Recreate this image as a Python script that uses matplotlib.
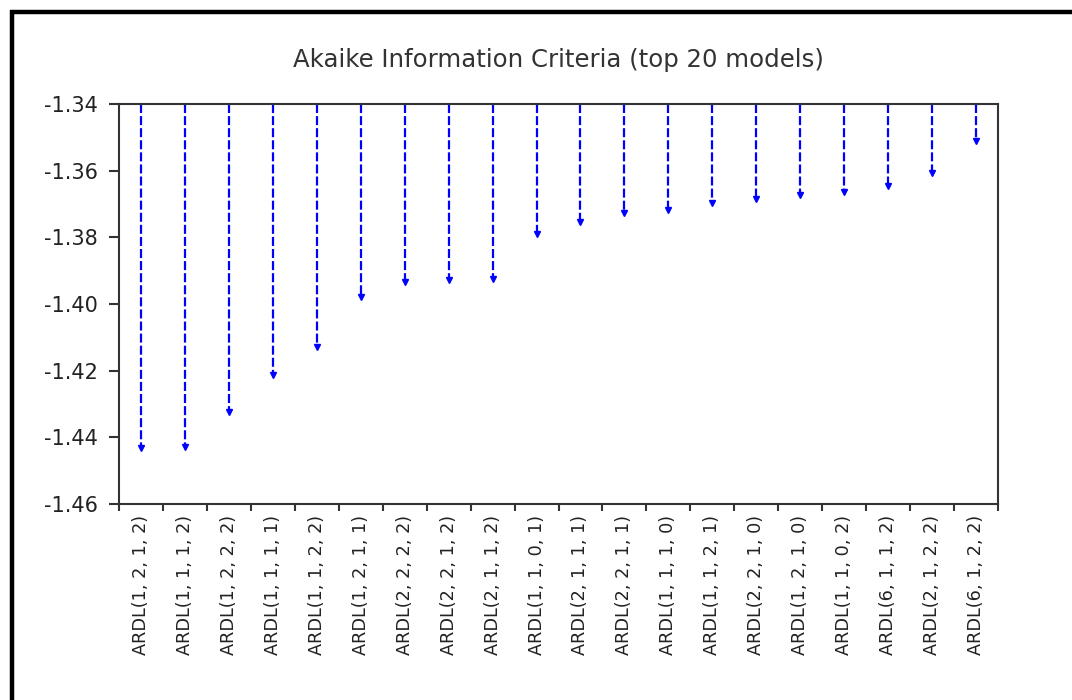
import matplotlib
matplotlib.use("Agg")
import matplotlib.pyplot as plt
import numpy as np
from matplotlib.lines import Line2D

# 20 best ARDL specifications ranked by AIC
models = ["ARDL(1, 2, 1, 2)", "ARDL(1, 1, 1, 2)", "ARDL(1, 2, 2, 2)", "ARDL(1, 1, 1, 1)",
          "ARDL(1, 1, 2, 2)", "ARDL(1, 2, 1, 1)", "ARDL(2, 2, 2, 2)", "ARDL(2, 2, 1, 2)",
          "ARDL(2, 1, 1, 2)", "ARDL(1, 1, 0, 1)", "ARDL(2, 1, 1, 1)", "ARDL(2, 2, 1, 1)",
          "ARDL(1, 1, 1, 0)", "ARDL(1, 1, 2, 1)", "ARDL(2, 2, 1, 0)", "ARDL(1, 2, 1, 0)",
          "ARDL(1, 1, 0, 2)", "ARDL(6, 1, 1, 2)", "ARDL(2, 1, 2, 2)", "ARDL(6, 1, 2, 2)"]
aic = [-1.4433, -1.4430, -1.4325, -1.4212, -1.4129, -1.3980, -1.3933, -1.3928,
       -1.3925, -1.3791, -1.3753, -1.3728, -1.3718, -1.3696, -1.3684, -1.3673,
       -1.3665, -1.3645, -1.3606, -1.3510]
yticks = [-1.34, -1.36, -1.38, -1.40, -1.42, -1.44, -1.46]
ytop, ybot = -1.34, -1.46

plt.rcParams['lines.scale_dashes'] = False
fig = plt.figure(figsize=(10.72, 7.0), dpi=100)
ax = fig.add_axes([0.1110, 0.28, 0.8200, 0.5714])

x = np.arange(len(models)) + 0.5
ax.vlines(x, ytop, aic, colors="#0000ff", linewidth=1.6, linestyles=(0, (6.5, 2.2)))
ax.plot(x, aic, linestyle="none", marker="v", markersize=5, color="#0000ff")

ax.set_xlim(0, len(models))
ax.set_ylim(ybot, ytop)
ax.set_yticks(yticks)
ax.set_yticklabels(["%.2f" % v for v in yticks], fontsize=15, color="#222222")
ax.set_xticks(x)
ax.set_xticklabels(models, rotation=90, fontsize=12.7, color="#222222")
ax.set_xticks(np.arange(len(models) + 1), minor=True)
ax.tick_params(axis="x", which="major", length=0, pad=8)
ax.tick_params(axis="x", which="minor", length=5, width=1.5, color="#333333", direction="out")
ax.tick_params(axis="y", length=7, width=1.5, color="#333333", direction="out", pad=8)
for s in ax.spines.values():
    s.set_color("#333333")
    s.set_linewidth(1.5)

fig.text(0.521, 0.914, "Akaike Information Criteria (top 20 models)",
         ha="center", va="center", fontsize=17.6, color="#333333")

# black frame on the left and top edges
fig.add_artist(Line2D([12 / 1072, 12 / 1072], [0, 1 - 9.5 / 700], color="black",
                      linewidth=3.2, solid_capstyle="butt", transform=fig.transFigure))
fig.add_artist(Line2D([10 / 1072, 1], [1 - 11.5 / 700, 1 - 11.5 / 700], color="black",
                      linewidth=3.2, solid_capstyle="butt", transform=fig.transFigure))

fig.savefig("out.png", dpi=100)
